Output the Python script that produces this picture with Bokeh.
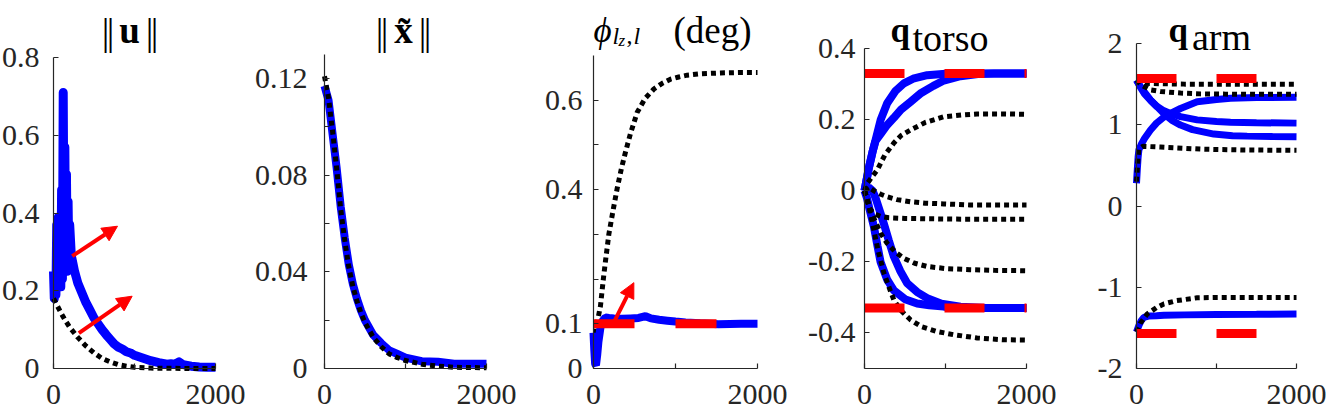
from bokeh.plotting import figure
from bokeh.layouts import row
from bokeh.models import FixedTicker, Label, Arrow, NormalHead, Range1d
from bokeh.embed import file_html
from bokeh.resources import INLINE

# ---------------- data ----------------
X_TICKS = [0, 1000, 2000]
X_LABELS = {0: "0", 1000: "", 2000: "2000"}

# panel 1: ||u||
u_blue_t = [0, 10, 20, 30, 40, 50, 60, 70, 80, 90, 100, 110, 120, 130, 140, 150, 160, 170, 180, 190,
            200, 220, 240, 260, 280, 300, 350, 400, 450, 500, 550, 600, 650, 700, 750, 800, 850, 900,
            950, 1000, 1100, 1200, 1300, 1400, 1450, 1500, 1550, 1600, 1700, 1800, 1900, 2000]
u_blue = [0.25, 0.18, 0.22, 0.19, 0.37, 0.24, 0.39, 0.30, 0.25, 0.21, 0.46, 0.23, 0.71, 0.30, 0.57,
          0.26, 0.50, 0.25, 0.43, 0.27, 0.37, 0.29, 0.27, 0.25, 0.235, 0.22, 0.195, 0.17, 0.15, 0.13,
          0.115, 0.10, 0.087, 0.075, 0.063, 0.055, 0.05, 0.043, 0.04, 0.034, 0.027, 0.02, 0.015,
          0.011, 0.012, 0.011, 0.017, 0.01, 0.006, 0.004, 0.003, 0.003]
u_black_t = [0, 50, 100, 150, 200, 300, 400, 500, 600, 700, 800, 900, 1000, 1200, 1400, 1700, 2000]
u_black = [0.18, 0.16, 0.14, 0.122, 0.106, 0.08, 0.058, 0.04, 0.026, 0.017, 0.01, 0.006, 0.003,
           0.001, 0.0005, 0.0, 0.0]
u_arrow_start_t = [231, 313]
u_arrow_start_v = [0.289, 0.091]
u_arrow_end_t = [790, 971]
u_arrow_end_v = [0.366, 0.186]
u_yticks = [0, 0.2, 0.4, 0.6, 0.8]
u_ylabels = {0: "0", 0.2: "0.2", 0.4: "0.4", 0.6: "0.6", 0.8: "0.8"}

# panel 2: ||x~||
x_t = [0, 50, 100, 150, 200, 250, 300, 350, 400, 450, 500, 600, 700, 800, 900, 1000, 1200, 1400, 1600, 2000]
x_black = [0.121, 0.112, 0.098, 0.083, 0.066, 0.053, 0.042, 0.034, 0.028, 0.023, 0.019, 0.013,
           0.009, 0.006, 0.0045, 0.0033, 0.0018, 0.001, 0.0005, 0.0003]
x_blue = [0.117, 0.111, 0.097, 0.083, 0.067, 0.054, 0.043, 0.035, 0.029, 0.024, 0.02, 0.014,
          0.0105, 0.0075, 0.006, 0.0045, 0.003, 0.0028, 0.002, 0.002]
x_yticks = [0, 0.02, 0.04, 0.06, 0.08, 0.10, 0.12]
x_ylabels = {0: "0", 0.02: "", 0.04: "0.04", 0.06: "", 0.08: "0.08", 0.1: "", 0.12: "0.12"}

# panel 3: phi (deg)
phi_black_t = [0, 25, 50, 85, 126, 146, 187, 240, 289, 340, 390, 450, 533, 630, 736, 840, 939, 1040,
               1142, 1300, 1549, 1800, 2000]
phi_black = [0.058, 0.08, 0.107, 0.14, 0.21, 0.24, 0.3, 0.355, 0.403, 0.447, 0.484, 0.525, 0.573,
             0.604, 0.625, 0.638, 0.647, 0.652, 0.656, 0.659, 0.661, 0.662, 0.662]
phi_blue_t = [0, 10, 20, 30, 45, 60, 85, 110, 146, 190, 250, 350, 450, 550, 634, 700, 800, 900, 1000,
              1122, 1300, 1524, 1800, 2000]
phi_blue = [0.08, 0.04, 0.01, 0.007, 0.03, 0.06, 0.092, 0.106, 0.114, 0.113, 0.112, 0.111, 0.112,
            0.113, 0.117, 0.112, 0.109, 0.107, 0.105, 0.103, 0.101, 0.099, 0.1, 0.1]
phi_limit = [0.1]
phi_arrow_start = (248, 0.103)
phi_arrow_end = (492, 0.192)
phi_yticks = [0, 0.1, 0.2, 0.3, 0.4, 0.5, 0.6]
phi_ylabels = {0: "0", 0.1: "0.1", 0.2: "", 0.3: "", 0.4: "0.4", 0.5: "", 0.6: "0.6"}

# panel 4: q torso
torso_blue_t = [
    [0, 50, 100, 136, 200, 280, 380, 486, 600, 774, 1000, 1185, 1500, 2000],
    [0, 50, 100, 136, 200, 280, 362, 450, 568, 700, 850, 979, 1185, 1400, 1600, 2000],
    [0, 30, 60, 115, 160, 198, 280, 362, 500, 650, 800, 979, 1200, 1500, 2000],
    [0, 50, 100, 136, 200, 238, 300, 362, 440, 527, 650, 774, 950, 1185, 1500, 2000],
]
torso_blue = [
    [0, 0.06, 0.11, 0.142, 0.2, 0.246, 0.28, 0.302, 0.315, 0.325, 0.329, 0.33, 0.33, 0.33],
    [0, 0.06, 0.11, 0.14, 0.16, 0.185, 0.205, 0.228, 0.25, 0.275, 0.295, 0.31, 0.322, 0.328, 0.33, 0.33],
    [0, -0.02, -0.05, -0.1, -0.155, -0.2, -0.25, -0.28, -0.305, -0.317, -0.322, -0.326, -0.329, -0.33, -0.33],
    [0, 0.01, 0.0, -0.02, -0.065, -0.092, -0.14, -0.185, -0.225, -0.26, -0.285, -0.302, -0.318, -0.326, -0.33, -0.33],
]
torso_black_t = [
    [0, 33, 80, 156, 250, 362, 450, 568, 750, 979, 1200, 1390, 1700, 2000],
    [0, 50, 115, 200, 280, 400, 568, 750, 979, 1300, 1600, 2000],
    [0, 40, 74, 130, 198, 300, 500, 800, 1200, 1600, 2000],
    [0, 50, 100, 150, 200, 280, 380, 486, 620, 774, 1000, 1300, 1600, 2000],
    [0, 50, 115, 170, 238, 300, 362, 450, 568, 700, 897, 1100, 1390, 1700, 2000],
]
torso_black = [
    [0, 0.02, 0.035, 0.058, 0.1, 0.134, 0.155, 0.171, 0.192, 0.208, 0.213, 0.216, 0.216, 0.215],
    [0, 0.01, 0.0, -0.01, -0.017, -0.025, -0.031, -0.035, -0.037, -0.04, -0.04, -0.04],
    [0, -0.03, -0.054, -0.066, -0.072, -0.076, -0.078, -0.079, -0.08, -0.08, -0.08],
    [0, -0.04, -0.07, -0.095, -0.12, -0.148, -0.172, -0.19, -0.204, -0.213, -0.219, -0.222, -0.224, -0.225],
    [0, -0.04, -0.11, -0.17, -0.23, -0.27, -0.307, -0.337, -0.363, -0.382, -0.396, -0.405, -0.414, -0.419, -0.42],
]
torso_limits = [0.33, -0.33]
torso_yticks = [-0.4, -0.2, 0, 0.2, 0.4]
torso_ylabels = {-0.4: "-0.4", -0.2: "-0.2", 0: "0", 0.2: "0.2", 0.4: "0.4"}

# panel 5: q arm
arm_blue_t = [
    [0, 50, 100, 175, 250, 330, 425, 550, 758, 1000, 1175, 1500, 2000],
    [0, 50, 100, 175, 258, 350, 450, 550, 700, 967, 1200, 1383, 1700, 2000],
    [0, 10, 20, 30, 60, 100, 175, 250, 330, 425, 550, 758, 1000, 1175, 1500, 2000],
    [0, 30, 60, 92, 150, 250, 342, 600, 1000, 1500, 2000],
]
arm_blue = [
    [1.55, 1.47, 1.4, 1.305, 1.23, 1.18, 1.14, 1.1, 1.06, 1.04, 1.03, 1.025, 1.02],
    [1.55, 1.46, 1.38, 1.3, 1.22, 1.13, 1.05, 0.996, 0.94, 0.885, 0.865, 0.86, 0.855, 0.852],
    [0.28, 0.45, 0.6, 0.69, 0.76, 0.83, 0.935, 1.02, 1.085, 1.14, 1.2, 1.284, 1.31, 1.326, 1.335, 1.338],
    [-1.55, -1.47, -1.41, -1.37, -1.355, -1.35, -1.345, -1.34, -1.335, -1.333, -1.33],
]
arm_black_t = [
    [0, 100, 300, 600, 1000, 1500, 2000],
    [0, 60, 175, 300, 550, 800, 1100, 1500, 2000],
    [0, 10, 20, 30, 80, 300, 800, 1300, 2000],
    [0, 50, 133, 250, 342, 500, 758, 1000, 1400, 2000],
]
arm_black = [
    [1.55, 1.51, 1.505, 1.5, 1.5, 1.5, 1.5],
    [1.55, 1.49, 1.43, 1.41, 1.39, 1.38, 1.377, 1.375, 1.375],
    [0.3, 0.45, 0.6, 0.7, 0.735, 0.725, 0.7, 0.69, 0.685],
    [-1.55, -1.44, -1.33, -1.25, -1.205, -1.165, -1.13, -1.125, -1.125, -1.125],
]
arm_limits = [1.57, -1.57]
arm_yticks = [-2, -1, 0, 1, 2]
arm_ylabels = {-2: "-2", -1: "-1", 0: "0", 1: "1", 2: "2"}

# ---------------- style / layout ----------------
BLUE = "#0000FF"
RED = "#FF0000"
AXC = "#262626"
TICK_FONT = "Liberation Serif"
TICK_SIZE = "30px"
TITLE_FONT = "Liberation Serif"
H = 408
PAGE_TOP = 0
AXIS_Y = 368          # page y of the x-axis line


def make_panel(page_left, page_right, fl, fr, ft, ymin, ymax, yticks, ylabels, standoff):
    """page_left/right: canvas extent on the page; fl/fr/ft: axes box on the page."""
    width = page_right - page_left
    xpp = 2000.0 / (fr - fl)                      # data per px
    x0 = 0 - (fl - page_left) * xpp
    x1 = 2000 + (page_right - fr) * xpp
    ypp = (ymax - ymin) / (AXIS_Y - ft)
    y1 = ymax + (ft - PAGE_TOP) * ypp
    y0 = ymin - (PAGE_TOP + H - AXIS_Y) * ypp
    p = figure(width=width, height=H, output_backend="svg", toolbar_location=None,
               x_range=Range1d(x0, x1), y_range=Range1d(y0, y1),
               min_border=0, min_border_left=0, min_border_right=0,
               min_border_top=0, min_border_bottom=0)
    p.title.visible = False
    p.grid.visible = False
    p.outline_line_color = None
    p.background_fill_color = "white"
    p.border_fill_color = "white"

    xa = p.xaxis[0]
    xa.fixed_location = ymin
    xa.bounds = (0, 2000)
    xa.ticker = FixedTicker(ticks=X_TICKS)
    xa.major_label_overrides = X_LABELS
    xa.major_label_standoff = 16
    ya = p.yaxis[0]
    ya.fixed_location = 0
    ya.bounds = (ymin, ymax)
    ya.ticker = FixedTicker(ticks=yticks)
    ya.major_label_overrides = ylabels
    ya.major_label_standoff = standoff
    for ax in (xa, ya):
        ax.axis_line_color = AXC
        ax.axis_line_width = 1.2
        ax.major_tick_line_color = AXC
        ax.major_tick_line_width = 1.2
        ax.major_tick_in = 5
        ax.major_tick_out = 0
        ax.minor_tick_line_color = None
        ax.major_label_text_font = TICK_FONT
        ax.major_label_text_font_size = TICK_SIZE
        ax.major_label_text_color = AXC
    p._fl = fl - page_left
    return p


def add_text(p, text, x, base_page_y, size, style="normal", align="left"):
    # x: px from the axes box left edge; base_page_y: baseline position on the page
    y = (PAGE_TOP + H) - base_page_y
    p.add_layout(Label(x=p._fl + x, y=y, x_units="screen", y_units="screen", text=text,
                       text_font=TITLE_FONT, text_font_size=size, text_font_style=style,
                       text_align=align, text_baseline="alphabetic", text_color="black"))


def norm_bars(p, centers):
    for c in centers:
        add_text(p, "|", c, 31, "38px", align="center")


def limit_line(p, v, frame_w):
    dash = int(round(500 / 2000 * frame_w))
    p.line([0, 2000], [v, v], line_color=RED, line_width=9,
           line_dash=f"{dash} {dash}", line_cap="butt")


def red_arrow(p, xs, ys, xe, ye):
    p.add_layout(Arrow(end=NormalHead(size=15, fill_color=RED, line_color=RED, line_width=1),
                       x_start=xs, y_start=ys, x_end=xe, y_end=ye,
                       line_color=RED, line_width=4))


BLACK_DASH = "5 4"

# panel 1
p1 = make_panel(0, 249, 53, 215, 57, 0, 0.8, u_yticks, u_ylabels, 14)
p1.line(u_blue_t, u_blue, line_color=BLUE, line_width=9, line_join="round")
p1.line(u_black_t, u_black, line_color="black", line_width=5, line_dash=BLACK_DASH)
for i in range(len(u_arrow_start_t)):
    red_arrow(p1, u_arrow_start_t[i], u_arrow_start_v[i], u_arrow_end_t[i], u_arrow_end_v[i])
norm_bars(p1, [52, 57, 96, 101])
add_text(p1, "u", 76, 30, "37px", style="bold", align="center")

# panel 2
p2 = make_panel(249, 540, 324, 486, 54, 0, 0.13, x_yticks, x_ylabels, 17)
p2.line(x_t, x_blue, line_color=BLUE, line_width=8)
p2.line(x_t, x_black, line_color="black", line_width=5, line_dash=BLACK_DASH)
norm_bars(p2, [55, 60, 98, 103])
add_text(p2, "x\u0303", 79, 30, "37px", style="bold", align="center")

# panel 3
p3 = make_panel(540, 795, 593, 757, 55, 0, 0.7, phi_yticks, phi_ylabels, 11)
p3.line(phi_black_t, phi_black, line_color="black", line_width=5, line_dash=BLACK_DASH)
p3.line(phi_blue_t, phi_blue, line_color=BLUE, line_width=8)
for v in phi_limit:
    limit_line(p3, v, 164)
red_arrow(p3, phi_arrow_start[0], phi_arrow_start[1], phi_arrow_end[0], phi_arrow_end[1])
add_text(p3, "\u03d5", 0, 30, "35px", style="italic")
add_text(p3, "l", 19, 35, "24px", style="italic")
add_text(p3, "z", 25, 40, "17px", style="italic")
add_text(p3, ",", 33, 35, "24px")
add_text(p3, "l", 40, 35, "24px", style="italic")
add_text(p3, "(deg)", 119, 30, "37px", align="center")

# panel 4
p4 = make_panel(795, 1080, 864, 1026, 48, -0.5, 0.4, torso_yticks, torso_ylabels, 9)
for t, v in zip(torso_blue_t, torso_blue):
    p4.line(t, v, line_color=BLUE, line_width=8)
for t, v in zip(torso_black_t, torso_black):
    p4.line(t, v, line_color="black", line_width=5, line_dash=BLACK_DASH)
for v in torso_limits:
    limit_line(p4, v, 162)
add_text(p4, "q", 26, 30, "35px", style="bold")
add_text(p4, "torso", 86, 37, "38px", align="center")

# panel 5
p5 = make_panel(1080, 1328, 1136, 1296, 43, -2, 2, arm_yticks, arm_ylabels, 14)
for t, v in zip(arm_blue_t, arm_blue):
    p5.line(t, v, line_color=BLUE, line_width=7)
for t, v in zip(arm_black_t, arm_black):
    p5.line(t, v, line_color="black", line_width=5, line_dash=BLACK_DASH)
for v in arm_limits:
    limit_line(p5, v, 160)
add_text(p5, "q", 32, 30, "35px", style="bold")
add_text(p5, "arm", 85, 36, "38px", align="center")

layout = row(p1, p2, p3, p4, p5)
open("out.html", "w").write(file_html(layout, INLINE))
